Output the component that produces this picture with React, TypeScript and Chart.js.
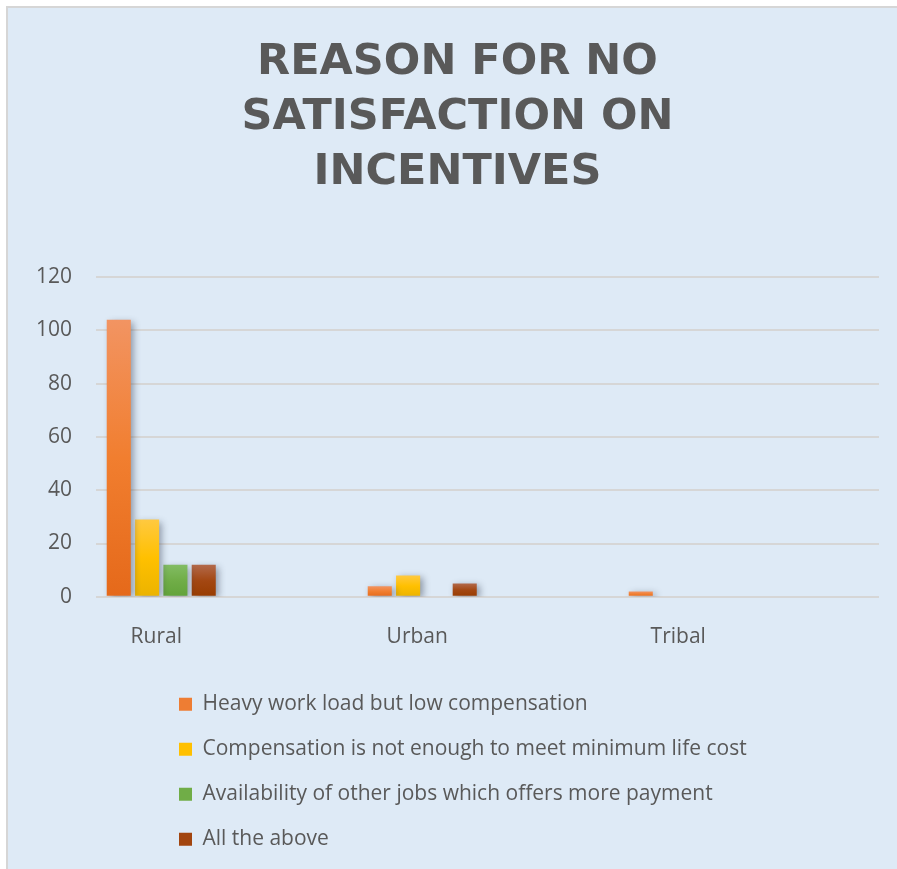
import React, { useEffect, useRef } from 'react';
import { Chart, registerables } from 'chart.js';

Chart.register(...registerables);

// ---- data ----
const TITLE_LINES = ['REASON FOR NO', 'SATISFACTION ON', 'INCENTIVES'];
const CATEGORIES = ['Rural', 'Urban', 'Tribal'];
const SERIES_NAMES = [
  'Heavy work load but low compensation',
  'Compensation is not enough to meet minimum life cost',
  'Availability of other jobs which offers more payment',
  'All the above',
];
const HEAVY_WORKLOAD = [104, 4, 2];
const NOT_ENOUGH_FOR_LIFE_COST = [29, 8, 0];
const OTHER_JOBS_PAY_MORE = [12, 0, 0];
const ALL_THE_ABOVE = [12, 5, 0];
const Y_MIN = 0;
const Y_MAX = 120;
const Y_STEP = 20;

// ---- styles ----
const SERIES_VALUES = [HEAVY_WORKLOAD, NOT_ENOUGH_FOR_LIFE_COST, OTHER_JOBS_PAY_MORE, ALL_THE_ABOVE];
const GRADIENTS = [
  ['#f29462', '#f17e2f', '#e5691a'],
  ['#ffc940', '#ffc000', '#ebb300'],
  ['#82bc63', '#70ad47', '#62a33a'],
  ['#b2694a', '#a34712', '#983c00'],
];
const LEGEND_COLORS = ['#ee7d33', '#ffc000', '#70ad47', '#a2450f'];
const TEXT_COLOR = '#595959';
const FONT_FAMILY = "'Open Sans', sans-serif";

const gradientFill = (stops: string[]) => (ctx: any) => {
  const chart = ctx.chart;
  if (!chart.chartArea || ctx.type !== 'data') return stops[1];
  const y = chart.scales.y;
  const v = ctx.parsed ? ctx.parsed.y : 0;
  const top = y.getPixelForValue(v);
  const base = y.getPixelForValue(0);
  if (!isFinite(top) || base - top < 1) return stops[1];
  const g = chart.ctx.createLinearGradient(0, top, 0, base);
  g.addColorStop(0, stops[0]);
  g.addColorStop(0.5, stops[1]);
  g.addColorStop(1, stops[2]);
  return g;
};

const shadowPlugin = {
  id: 'barShadow',
  beforeDatasetsDraw(chart: any) {
    const c = chart.ctx;
    c.save();
    c.shadowColor = 'rgba(40, 50, 70, 0.45)';
    c.shadowBlur = 7;
    c.shadowOffsetX = 3;
    c.shadowOffsetY = 2;
  },
  afterDatasetsDraw(chart: any) {
    chart.ctx.restore();
  },
};

const legendPlacer = {
  id: 'legendPlacer',
  afterLayout(chart: any) {
    const lg = chart.legend;
    const a = chart.chartArea;
    if (!lg || !a) return;
    lg.left = a.left + 59;
    lg.right = lg.left + 620;
    lg.top = a.bottom + 73;
    lg.height = 200;
    lg.bottom = lg.top + lg.height;
  },
};

export default function App() {
  const ref = useRef<HTMLCanvasElement | null>(null);

  useEffect(() => {
    if (!ref.current) return;
    const font = { family: FONT_FAMILY, size: 21 };
    const chart = new Chart(ref.current, {
      type: 'bar',
      data: {
        datasets: SERIES_NAMES.map((name, si) => ({
          label: name,
          data: SERIES_VALUES[si].map((v, i) => ({ x: i, y: v })),
          backgroundColor: gradientFill(GRADIENTS[si]),
          borderWidth: 0,
        })),
      },
      options: {
        responsive: false,
        animation: false,
        events: [],
        layout: { padding: { left: 36, right: 36, top: 0, bottom: 46 } },
        datasets: { bar: { categoryPercentage: 0.434, barPercentage: 0.85 } },
        scales: {
          x: {
            type: 'linear',
            min: -0.25,
            max: 2.75,
            bounds: 'data',
            offset: false,
            grid: { display: false, drawTicks: false, offset: false },
            border: { display: false },
            afterBuildTicks: (s: any) => {
              s.ticks = CATEGORIES.map((_, i) => ({ value: i }));
            },
            ticks: {
              autoSkip: false,
              maxRotation: 0,
              padding: 28,
              labelOffset: -5,
              font,
              color: TEXT_COLOR,
              callback: (v: any) => CATEGORIES[v] ?? '',
            },
          },
          y: {
            min: Y_MIN,
            max: Y_MAX,
            afterFit: (s: any) => {
              s.width = 60;
            },
            ticks: { stepSize: Y_STEP, padding: 24, font, color: TEXT_COLOR },
            grid: { color: '#d6d6d6', lineWidth: 2, drawTicks: false },
            border: { display: false },
          },
        },
        plugins: {
          title: {
            display: true,
            text: TITLE_LINES,
            color: TEXT_COLOR,
            font: { family: "'DejaVu Sans', sans-serif", weight: 'bold', size: 43, lineHeight: 55 / 43 },
            padding: { top: 35, bottom: 77 },
          },
          legend: {
            display: true,
            position: 'bottom',
            align: 'start',
            labels: {
              boxWidth: 13,
              boxHeight: 13,
              padding: 24,
              font,
              color: TEXT_COLOR,
              generateLabels: (c: any) =>
                c.data.datasets.map((ds: any, i: number) => ({
                  text: ds.label,
                  fillStyle: LEGEND_COLORS[i],
                  strokeStyle: LEGEND_COLORS[i],
                  lineWidth: 0,
                  hidden: false,
                  datasetIndex: i,
                  fontColor: TEXT_COLOR,
                })),
            },
          },
          tooltip: { enabled: false },
        },
      } as any,
      plugins: [shadowPlugin, legendPlacer],
    });
    return () => chart.destroy();
  }, []);

  return (
    <div style={{ position: 'fixed', left: 0, top: 0, width: 897, height: 869, overflow: 'hidden', background: '#ffffff' }}>
      <div
        style={{
          position: 'absolute',
          left: 6,
          top: 6,
          width: 920,
          height: 880,
          background: '#deeaf6',
          borderLeft: '2px solid #d6d6d6',
          borderTop: '2px solid #d6d6d6',
        }}
      />
      <canvas ref={ref} width={915} height={869} style={{ position: 'absolute', left: 0, top: 0 }} />
    </div>
  );
}
